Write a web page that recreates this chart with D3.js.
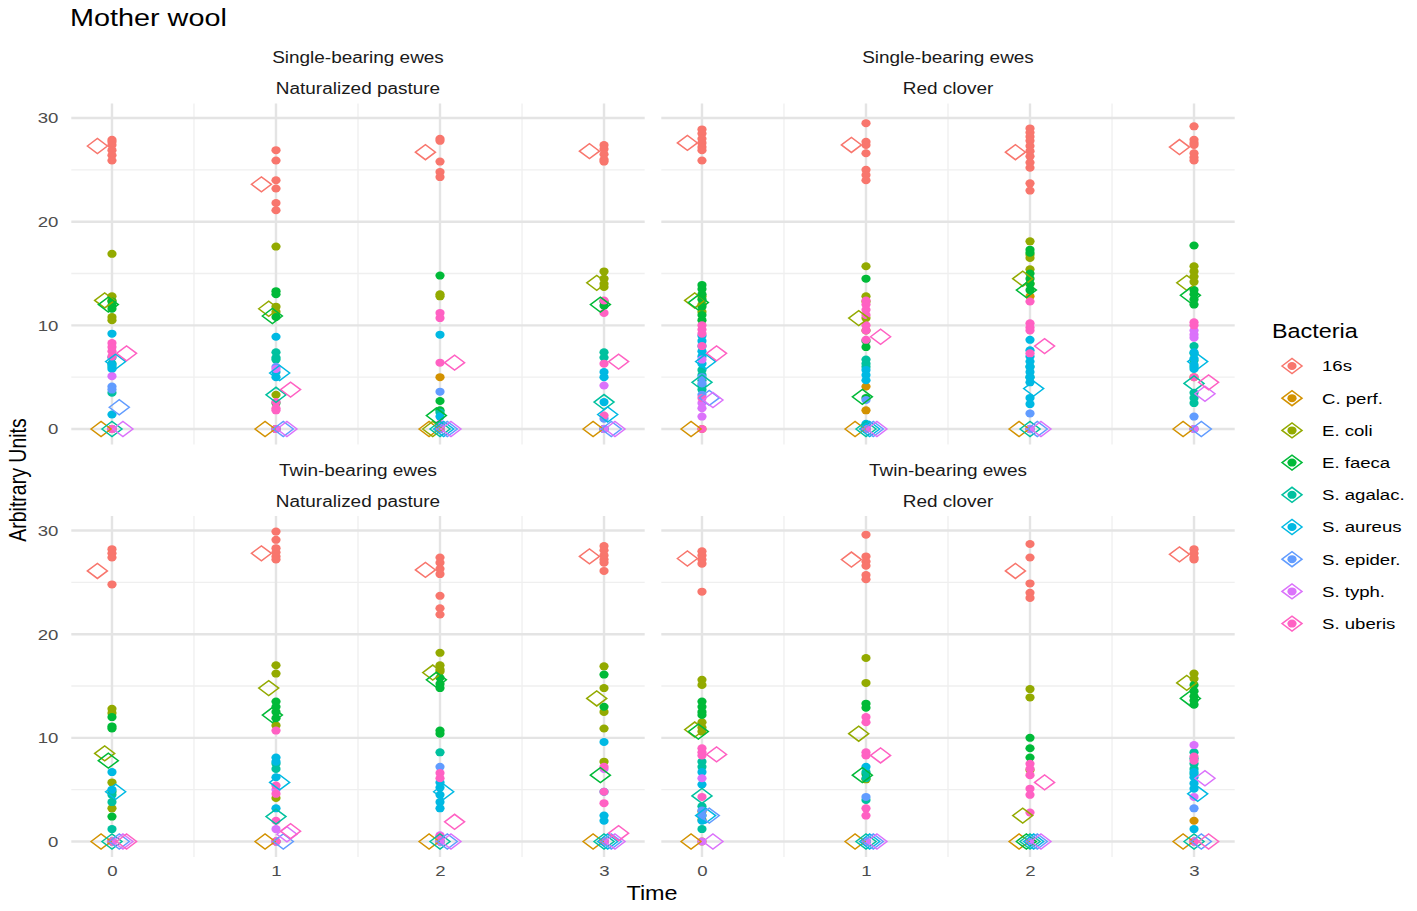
<!DOCTYPE html>
<meta charset="utf-8">
<style>
    body { margin: 0; background: #fff; }
    text { font-family: "Liberation Sans", Arial, sans-serif; }
</style>
<svg width="1417" height="911"></svg>
<script src="https://cdn.jsdelivr.net/npm/d3@7/dist/d3.min.js"></script>
<script>

    // categories
    var bacteria = ["16s", "C. perf.", "E. coli", "E. faeca", "S. agalac.", "S. aureus", "S. epider.", "S. typh.", "S. uberis"];
    var colours = ["#F8766D", "#D39200", "#93AA00", "#00BA38", "#00C19F", "#00B9E3", "#619CFF", "#DB72FB", "#FF61C3"];
    var times = [0, 1, 2, 3];
    var stripTop = ["Single-bearing ewes", "Single-bearing ewes", "Twin-bearing ewes", "Twin-bearing ewes"];
    var stripBottom = ["Naturalized pasture", "Red clover", "Naturalized pasture", "Red clover"];
    var yTicks = [0, 10, 20, 30];

    // points per bacteria: [panel][time] -> values
    // panel order: single/naturalized, single/clover, twin/naturalized, twin/clover
    var p16s = [
        [[27.9, 27.7, 27.4, 26.9, 26.4, 25.9], [26.9, 25.9, 24.0, 23.2, 21.8, 21.1], [28.0, 27.8, 25.8, 24.8, 24.3], [27.4, 27.0, 26.5, 26.0, 25.8]],
        [[28.9, 28.5, 28.0, 27.6, 27.2, 26.9, 25.9], [29.5, 27.7, 27.4, 26.6, 25.0, 24.5, 24.0], [29.0, 28.6, 28.2, 27.8, 27.3, 26.8, 26.3, 25.7, 25.2, 23.7, 23.0], [29.2, 27.9, 27.6, 27.4, 26.6, 26.2, 25.9]],
        [[28.2, 27.8, 27.4, 24.8], [29.9, 29.1, 28.3, 27.9, 27.5, 27.2], [27.4, 26.9, 26.3, 25.8, 23.7, 22.5, 21.9], [28.5, 28.1, 27.6, 27.2, 26.9, 26.1]],
        [[28.0, 27.6, 27.2, 26.8, 24.1], [29.6, 27.5, 27.0, 26.6, 25.7, 25.3], [28.7, 27.4, 24.9, 24.0, 23.5], [28.2, 27.8, 27.4, 27.2]]
    ];
    var pCperf = [
        [[0, 0], [0], [5.0, 0], [0]],
        [[0], [4.1, 1.8, 0], [12.8, 0], [5.0, 0]],
        [[0], [0], [0], [0]],
        [[2.9, 2.1, 0], [0], [0], [2.0, 0]]
    ];
    var pEcoli = [
        [[16.9, 12.8, 12.4, 10.8, 10.5], [17.6, 11.8, 11.3, 3.3], [13.0, 12.8, 0], [15.2, 14.5, 14.0, 13.7]],
        [[12.8, 12.0, 11.3], [15.7, 12.8, 12.3, 10.7, 9.5], [18.1, 16.8, 16.5, 15.4, 14.0], [15.7, 15.2, 14.7, 14.2]],
        [[12.8, 12.4, 5.7, 3.2], [17.0, 16.2, 11.2, 4.2], [18.2, 17.0, 16.6, 16.4], [16.9, 14.8, 12.5, 10.9, 7.7]],
        [[15.6, 15.1, 11.5, 11.0, 10.6], [17.7, 15.3, 6.0], [14.7, 13.9, 6.9, 0], [16.2, 15.7]]
    ];
    var pEfaeca = [
        [[12.3, 11.9, 11.6], [13.3, 13.0, 10.8, 2.5], [14.8, 2.7, 1.8, 0], [12.3, 11.9]],
        [[13.9, 13.5, 13.0, 12.5, 11.8, 11.0, 10.5], [14.5, 8.5, 7.9, 3.0], [17.3, 17.0, 15.0, 14.5, 14.0, 13.4], [17.7, 13.4, 13.0, 12.5, 12.0]],
        [[12.0, 11.1, 10.9, 4.8, 2.4], [13.5, 13.0, 12.5, 11.9], [15.8, 15.2, 14.8, 10.7, 10.4], [16.1, 13.0]],
        [[13.5, 13.0, 12.5, 12.2], [13.3, 12.9, 6.5], [10.0, 9.0, 8.1, 0], [15.1, 14.5, 14.0, 13.6, 13.2]]
    ];
    var pSagalac = [
        [[6.3, 6.0, 3.5, 0], [7.4, 6.9, 6.7, 0], [1.6, 0], [7.4, 6.9, 0]],
        [[5.7, 5.2, 4.7, 4.2, 3.8], [6.7, 6.3, 6.0, 0], [6.0, 5.0, 0], [8.0, 7.3, 6.6, 6.0, 3.5, 3.0, 2.5]],
        [[4.5, 3.8, 1.2, 0], [7.5, 7.0], [8.6, 0], [0]],
        [[7.7, 7.2, 3.4, 2.5, 1.2], [6.7, 6.1, 4.0, 0], [0], [8.6, 8.0, 7.5, 7.0, 6.5]]
    ];
    var pSaureus = [
        [[9.2, 6.9, 6.2, 5.8, 1.4], [8.9, 5.5, 5.0, 0], [9.1, 1.2, 0], [5.5, 5.0, 2.6, 0]],
        [[9.0, 8.5, 8.0, 7.5, 7.0, 6.3], [5.7, 5.2, 4.7, 0.5, 0], [8.6, 7.6, 7.0, 6.5, 6.0, 5.5, 5.0, 4.5, 3.0, 2.4], [7.4, 6.8, 6.2, 5.8]],
        [[6.7, 5.0], [8.1, 7.7, 6.2, 3.2], [5.7, 5.2, 4.5, 3.8, 3.2], [9.6, 4.8, 2.5, 2.0]],
        [[6.7, 5.5, 2.0], [7.2, 0], [0], [6.7, 6.2, 5.6, 5.1, 1.2]]
    ];
    var pSepider = [
        [[4.1, 3.8, 0], [6.0, 0], [3.6, 0], [1.0, 0]],
        [[5.0, 4.4, 3.3], [2.8, 0], [1.5, 0], [1.2, 0]],
        [[0], [0], [7.2, 0], [0]],
        [[3.0, 2.5], [4.3, 0], [0], [3.2, 0]]
    ];
    var pStyph = [
        [[5.1, 0], [5.8, 0], [0.5, 0], [4.2, 0]],
        [[6.7, 2.5, 2.0, 1.2], [0], [0], [9.5, 9.1, 8.8, 0]],
        [[0], [5.0, 1.2, 0], [0.6, 0], [7.0, 0]],
        [[6.1, 0], [0], [0], [9.3, 4.3, 0]]
    ];
    var pSuberis = [
        [[8.3, 7.9, 7.5, 7.0, 0], [2.6, 2.0, 1.8, 0], [11.2, 10.7, 6.4, 0], [12.4, 11.2, 6.3, 1.3]],
        [[10.0, 9.6, 9.2, 8.0, 3.0, 0], [12.4, 12.0, 11.5, 11.0, 10.0, 9.5, 8.6, 0], [12.3, 10.2, 9.8, 9.5, 7.3], [10.3, 10.0, 5.0]],
        [[0], [10.7, 5.4, 4.6, 2.0, 0], [6.6, 6.1, 0.5], [7.2, 4.8, 3.7, 0]],
        [[9.0, 8.6, 8.3, 4.3], [12.0, 11.5, 8.6, 8.3, 3.2, 2.5], [7.5, 7.0, 6.4, 5.1, 4.5, 2.8], [8.2, 7.8, 0]]
    ];

    // diamond (summary) values per bacteria: [panel][time]
    var m16s     = [[27.3, 23.6, 26.7, 26.8], [27.6, 27.4, 26.7, 27.2], [26.1, 27.8, 26.2, 27.5], [27.3, 27.2, 26.1, 27.7]];
    var mCperf   = [[0, 0, 0, 0], [0, 0, 0, 0], [0, 0, 0, 0], [0, 0, 0, 0]];
    var mEcoli   = [[12.4, 11.6, 0, 14.1], [12.4, 10.7, 14.5, 14.1], [8.5, 14.8, 16.3, 13.8], [10.8, 10.4, 2.5, 15.3]];
    var mEfaeca  = [[12.0, 10.9, 1.3, 12.0], [12.2, 3.1, 13.4, 12.9], [7.8, 12.2, 15.6, 6.4], [10.6, 6.4, 0, 13.8]];
    var mSagalac = [[0, 3.3, 0, 2.6], [4.5, 0, 0, 4.4], [0, 2.4, 0, 0], [4.4, 0, 0, 0]];
    var mSaureus = [[6.5, 5.4, 0, 1.4], [6.5, 0, 3.9, 6.5], [4.8, 5.7, 4.8, 0], [2.5, 0, 0, 4.6]];
    var mSepider = [[2.1, 0, 0, 0], [3.0, 0, 0, 0], [0, 0, 0, 0], [2.5, 0, 0, 0]];
    var mStyph   = [[0, 0, 0, 0], [2.8, 0, 0, 3.4], [0, 0.7, 0, 0], [0, 0, 0, 6.1]];
    var mSuberis = [[7.3, 3.8, 6.4, 6.5], [7.3, 8.9, 8.0, 4.5], [0, 1.0, 1.9, 0.8], [8.4, 8.3, 5.7, 0]];

    var allPoints = [p16s, pCperf, pEcoli, pEfaeca, pSagalac, pSaureus, pSepider, pStyph, pSuberis];
    var allMeans = [m16s, mCperf, mEcoli, mEfaeca, mSagalac, mSaureus, mSepider, mStyph, mSuberis];

    var svg = d3.select("svg"),
        sx = 1.2,                      // the picture is stretched sideways
        pw = 573.4, ph = 341,
        panelX = [71.3, 661.3],
        panelY = [103.5, 516];

    var x = d3.scaleLinear().domain([-0.248, 3.248]).range([0, pw]);
    var y = d3.scaleLinear().domain([-1.495, 31.4]).range([ph, 0]);
    var colour = d3.scaleOrdinal().domain(bacteria).range(colours);

    function label(g, px, py, str, size, fill, anchor) {
        return g.append("text")
            .attr("transform", "translate(" + px + "," + py + ") scale(" + sx + ",1)")
            .attr("text-anchor", anchor || "middle")
            .attr("dy", "0.35em")
            .style("font-size", size + "px")
            .attr("fill", fill)
            .text(str);
    }

    function diamondPath(hw, hh) {
        return "M" + (-hw) + ",0L0," + (-hh) + "L" + hw + ",0L0," + hh + "Z";
    }

    label(svg, 70, 18, "Mother wool", 24, "#000", "start");

    for (var p = 0; p < 4; p++) {
        var col = p % 2, row = Math.floor(p / 2);
        var g = svg.append("g").attr("transform", "translate(" + panelX[col] + "," + panelY[row] + ")");

        // grid
        g.selectAll(".xminor").data([0.5, 1.5, 2.5]).enter().append("line")
            .attr("x1", d => x(d)).attr("x2", d => x(d)).attr("y1", 0).attr("y2", ph)
            .attr("stroke", "#efefef").attr("stroke-width", 1.3);
        g.selectAll(".yminor").data([5, 15, 25]).enter().append("line")
            .attr("x1", 0).attr("x2", pw).attr("y1", d => y(d)).attr("y2", d => y(d))
            .attr("stroke", "#efefef").attr("stroke-width", 1.3);
        g.selectAll(".xmajor").data(times).enter().append("line")
            .attr("x1", d => x(d)).attr("x2", d => x(d)).attr("y1", 0).attr("y2", ph)
            .attr("stroke", "#e4e4e4").attr("stroke-width", 2.4);
        g.selectAll(".ymajor").data(yTicks).enter().append("line")
            .attr("x1", 0).attr("x2", pw).attr("y1", d => y(d)).attr("y2", d => y(d))
            .attr("stroke", "#e4e4e4").attr("stroke-width", 2.4);

        // strip labels
        label(svg, panelX[col] + pw / 2, panelY[row] - 46, stripTop[p], 15.8, "#1a1a1a");
        label(svg, panelX[col] + pw / 2, panelY[row] - 15, stripBottom[p], 15.8, "#1a1a1a");

        // points
        var pts = [];
        allPoints.forEach(function (series, b) {
            times.forEach(function (t) {
                series[p][t].forEach(function (v) { pts.push({b: b, t: t, v: v}); });
            });
        });
        g.append("g").selectAll("ellipse").data(pts).enter().append("ellipse")
            .attr("cx", d => x(d.t))
            .attr("cy", d => y(d.v))
            .attr("rx", 4.6).attr("ry", 4.0)
            .attr("fill", d => colour(bacteria[d.b]));

        // diamonds, dodged by bacteria
        var means = [];
        allMeans.forEach(function (series, b) {
            times.forEach(function (t) { means.push({b: b, t: t, v: series[p][t]}); });
        });
        g.append("g").selectAll("path").data(means).enter().append("path")
            .attr("d", diamondPath(10, 7.5))
            .attr("transform", d => "translate(" + x(d.t + (d.b - 4) * 0.2 / 9) + "," + y(d.v) + ")")
            .attr("fill", "none")
            .attr("stroke", d => colour(bacteria[d.b]))
            .attr("stroke-width", 1.5);

        // axes
        if (col === 0) {
            var ay = g.append("g").call(d3.axisLeft(y).tickValues(yTicks).tickSize(0).tickPadding(0));
            ay.select(".domain").remove();
            ay.selectAll("text")
                .attr("x", -13 / sx)
                .attr("transform", "scale(" + sx + ",1)")
                .style("font-size", "15.5px")
                .style("font-family", "Liberation Sans, Arial, sans-serif")
                .attr("fill", "#4d4d4d");
        }
        if (row === 1) {
            var ax = g.append("g").attr("transform", "translate(0," + ph + ")")
                .call(d3.axisBottom(x).tickValues(times).tickFormat(d3.format("d")).tickSize(0).tickPadding(8));
            ax.select(".domain").remove();
            ax.selectAll("text")
                .attr("transform", "scale(" + sx + ",1)")
                .style("font-size", "15.5px")
                .style("font-family", "Liberation Sans, Arial, sans-serif")
                .attr("fill", "#4d4d4d");
        }
    }

    // axis titles
    label(svg, 652, 893, "Time", 19.5, "#000");
    svg.append("text")
        .attr("transform", "translate(18,480) scale(" + sx + ",1) rotate(-90)")
        .attr("text-anchor", "middle")
        .attr("dy", "0.35em")
        .style("font-size", "19.5px")
        .text("Arbitrary Units");

    // legend
    var lg = svg.append("g");
    label(lg, 1272, 331, "Bacteria", 19.5, "#000", "start");
    var items = lg.selectAll(".item").data(bacteria).enter().append("g")
        .attr("transform", (d, i) => "translate(1292," + (366 + i * 32.2) + ")");
    items.append("ellipse").attr("rx", 4.6).attr("ry", 4.0).attr("fill", d => colour(d));
    items.append("path").attr("d", diamondPath(10, 7.5))
        .attr("fill", "none").attr("stroke", d => colour(d)).attr("stroke-width", 1.5);
    items.each(function (d) { label(d3.select(this), 30, 0, d, 15.5, "#000", "start"); });

</script>
